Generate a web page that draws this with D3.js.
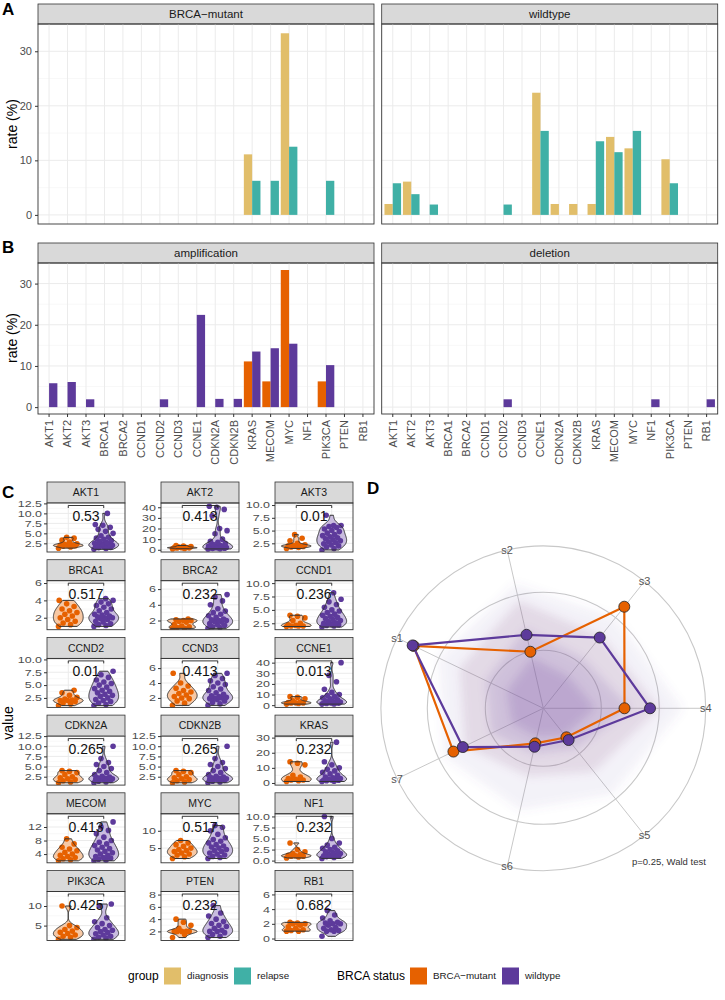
<!DOCTYPE html>
<html>
<head>
<meta charset="utf-8">
<script src="https://cdn.jsdelivr.net/npm/d3@7"></script>
<style>
body { margin: 0; background: #fff; }
svg { font-family: "Liberation Sans", Arial, sans-serif; }
</style>
</head>
<body>
<div id="fig"></div>
<script>
// ---- data ----
var genes = ['AKT1','AKT2','AKT3','BRCA1','BRCA2','CCND1','CCND2','CCND3','CCNE1','CDKN2A','CDKN2B','KRAS','MECOM','MYC','NF1','PIK3CA','PTEN','RB1'];

// panel A: alteration rate (%) by group, per BRCA status
var diagMutant    = [0,0,0,0,0,0,0,0,0,0,0,11.1,0,33.3,0,0,0,0];
var relapseMutant = [0,0,0,0,0,0,0,0,0,0,0,6.25,6.25,12.5,0,6.25,0,0];
var diagWild      = [2.0,6.1,0,0,0,0,0,0,22.4,2.0,2.0,2.0,14.3,12.2,0,10.2,0,0];
var relapseWild   = [5.8,3.8,1.9,0,0,0,1.9,0,15.4,0,0,13.5,11.5,15.4,0,5.8,0,0];

// panel B: amplification / deletion rate (%)
var ampMutant = [0,0,0,0,0,0,0,0,0,0,0,11.1,6.25,33.3,0,6.25,0,0];
var ampWild   = [5.8,6.1,1.9,0,0,0,1.9,0,22.4,2.0,2.0,13.5,14.3,15.4,0,10.2,0,0];
var delMutant = [0,0,0,0,0,0,0,0,0,0,0,0,0,0,0,0,0,0];
var delWild   = [0,0,0,0,0,0,1.9,0,0,0,0,0,0,0,1.9,0,0,1.9];
var rateTicks = [0,10,20,30];

// panel C: copy number values per gene
var cnMutant = [
  [1.3,1.6,1.8,1.9,2.0,2.0,2.1,2.2,2.4,2.8,3.3,3.8,4.0],
  [1.0,1.3,1.6,1.8,2.0,2.0,2.2,2.5,3.0,3.5,4.0],
  [1.5,1.7,1.8,1.9,2.0,2.0,2.0,2.1,2.2,2.5,3.0,3.5,4.2],
  [1.0,1.2,1.4,1.6,1.8,2.0,2.2,2.4,2.6,2.8,3.0,3.3,3.6,4.0],
  [1.0,1.0,1.1,1.2,1.3,1.5,1.8,1.9,2.0,2.0,2.1,2.2],
  [1.9,2.0,2.0,2.0,2.1,2.2,2.5,3.0,3.5,3.8,4.0],
  [1.0,1.3,1.5,1.8,2.0,2.0,2.1,2.3,2.6,3.0,3.5,4.0],
  [1.0,1.3,1.6,1.9,2.0,2.2,2.4,2.6,2.8,3.0,3.3,3.6,4.0,5.3],
  [1.0,1.5,2.0,2.0,2.2,2.5,3.0,4.0,6.0,7.5,8.0],
  [1.0,1.2,1.5,1.8,2.0,2.2,2.5,3.0,3.5,3.8,4.0],
  [1.0,1.2,1.5,1.8,2.0,2.2,2.5,3.0,3.5,3.8,4.0],
  [1.0,1.5,2.0,2.0,2.5,3.0,4.0,5.0,12.0,13.0,14.0],
  [2.0,2.3,2.6,3.0,3.3,3.6,4.0,4.5,5.0,5.5,6.0,7.0,8.5],
  [2.0,2.5,3.0,3.3,3.6,4.0,4.3,4.6,5.0,5.5,6.0,6.5,7.2],
  [0.6,0.8,1.0,1.0,1.1,1.2,1.4,1.6,2.0,2.5,4.0],
  [1.5,2.0,2.3,2.6,3.0,3.3,3.6,4.0,4.5,5.0,10.0],
  [1.0,1.5,2.0,2.0,2.0,2.0,2.0,2.5,3.0,3.5,4.0],
  [1.0,1.0,1.1,1.2,1.4,1.6,1.8,2.0,2.0,2.1,2.2]
];
var cnWild = [
  [1.0,1.2,1.4,1.5,1.7,1.8,1.9,2.0,2.0,2.0,2.1,2.2,2.3,2.5,2.7,3.0,3.2,3.5,3.8,4.0,4.4,5.0,5.5,6.0,6.5,7.0,7.2,10.0],
  [0.8,1.0,1.2,1.5,1.7,1.8,2.0,2.0,2.1,2.3,2.5,2.8,3.0,3.5,4.0,5.0,6.0,7.0,8.0,10.0,15.0,18.0,20.0,32.0,38.0,40.0,41.0],
  [1.2,1.5,1.8,2.0,2.2,2.4,2.6,2.8,3.0,3.2,3.4,3.6,3.8,4.0,4.2,4.5,4.8,5.0,5.3,5.6,5.8,6.0,6.0,8.0],
  [1.0,1.1,1.2,1.3,1.5,1.6,1.8,1.9,2.0,2.0,2.1,2.2,2.3,2.4,2.6,2.8,3.0,3.2,3.4,3.6,3.8,4.0,4.2],
  [1.0,1.1,1.2,1.4,1.5,1.6,1.8,1.9,2.0,2.0,2.1,2.2,2.4,2.6,2.8,3.0,3.2,3.5,4.0,4.5,5.0,5.3],
  [1.8,2.0,2.1,2.2,2.3,2.5,2.6,2.8,3.0,3.2,3.4,3.6,3.8,4.0,4.2,4.5,4.8,5.0,5.5,6.0,6.5,7.0,8.2],
  [1.0,1.2,1.5,1.8,2.0,2.2,2.5,2.8,3.0,3.2,3.5,3.8,4.0,4.3,4.6,5.0,5.3,5.6,6.0,6.5,7.0,7.7],
  [1.0,1.2,1.4,1.6,1.8,1.9,2.0,2.0,2.1,2.2,2.3,2.5,2.7,3.0,3.2,3.5,3.8,4.0,4.3,4.6,5.0,5.3],
  [1.0,1.2,1.5,1.8,2.0,2.0,2.2,2.5,3.0,3.5,4.0,5.0,6.0,7.0,8.0,9.0,10.0,12.0,15.0,22.0,28.0,40.0],
  [1.0,1.2,1.4,1.6,1.8,1.9,2.0,2.0,2.0,2.1,2.2,2.4,2.6,3.0,3.5,4.0,4.5,5.0,5.5,6.0,7.0,10.0],
  [1.0,1.2,1.4,1.6,1.8,1.9,2.0,2.0,2.0,2.1,2.2,2.4,2.6,3.0,3.5,4.0,4.5,5.0,5.5,6.0,7.0,10.0],
  [1.0,1.2,1.5,1.8,2.0,2.0,2.2,2.5,3.0,3.5,4.0,5.0,6.0,7.0,8.0,9.0,10.0,12.0,14.0,27.0],
  [2.0,2.2,2.5,2.8,3.0,3.3,3.6,4.0,4.4,4.8,5.2,5.6,6.0,6.5,7.0,7.5,8.0,9.0,10.0,11.0,12.0,13.5],
  [2.0,2.3,2.6,3.0,3.3,3.6,4.0,4.3,4.6,5.0,5.3,5.6,6.0,6.5,7.0,7.5,8.0,9.0,10.0,11.0,11.5],
  [0.5,0.7,0.9,1.0,1.0,1.1,1.2,1.4,1.6,1.8,2.0,2.2,2.5,2.8,3.0,3.5,4.0,5.0,10.0],
  [1.5,1.8,2.0,2.3,2.6,2.9,3.2,3.5,3.8,4.0,4.5,5.0,5.5,6.0,7.0,10.0,10.5],
  [1.0,1.2,1.5,1.8,2.0,2.0,2.2,2.5,2.8,3.0,3.3,3.6,4.0,4.5,5.0,6.2],
  [0.3,1.0,1.0,1.1,1.2,1.4,1.5,1.8,2.0,2.0,2.1,2.2,2.4,2.8,3.2,3.8]
];
var cnPvalues = ['0.53','0.413','0.01','0.517','0.232','0.236','0.01','0.413','0.013','0.265','0.265','0.232','0.413','0.517','0.232','0.425','0.232','0.682'];
var cnTicks = [
  [2.5,5,7.5,10,12.5],[0,10,20,30,40],[2.5,5,7.5,10],
  [2,4,6],[2,4,6],[2.5,5,7.5,10],
  [2.5,5,7.5,10],[2,4,6],[0,10,20,30,40],
  [2.5,5,7.5,10,12.5],[2.5,5,7.5,10,12.5],[0,10,20,30],
  [4,8,12],[5,10],[0,2.5,5,7.5,10],
  [5,10],[2,4,6,8],[0,2,4,6]
];
var cnDomain = [
  [0.33,12.6],[-2.1,44],[0.8,10.4],
  [0.62,6.27],[0.83,7.07],[1.3,10.45],
  [0.65,10.2],[0.73,7.3],[-2.1,44],
  [0.43,12.5],[0.43,12.5],[-1.4,31],
  [1.42,15.9],[0.76,14.9],[-0.5,10.6],
  [1.2,13.7],[0.52,8.5],[-0.27,6.4]
];

// panel D: radar
var radarAxes = ['s1','s2','s3','s4','s5','s6','s7'];
var radarMutant = [1.24,0.50,1.12,0.70,0.32,0.31,0.86];
var radarWild   = [1.25,0.65,0.78,0.92,0.35,0.34,0.77];
var radarRings  = [0.5,1.0];
var hazeOuter = [1.00,1.10,1.00,1.20,0.95,0.90,0.95];
var hazeMid   = [0.80,0.95,0.80,1.00,0.70,0.60,0.75];
var hazeInner = [0.55,0.70,0.55,0.75,0.45,0.40,0.50];
var hazeCore  = [0.35,0.45,0.35,0.45,0.30,0.25,0.30];

var statusLevels = ['BRCA-mutant','wildtype'];
var colDiag = '#E1BE6A', colRelapse = '#40B0A6';
var colMut = '#E66100', colWild = '#5D3A9B';

// ---- setup ----
var svg = d3.select('#fig').append('svg')
    .attr('width', 725)
    .attr('height', 1000);

var gridMajor = '#EBEBEB', gridMinor = '#F4F4F4', frame = '#333333';

function tag(txt, x, y) {
    svg.append('text').attr('x', x).attr('y', y)
        .attr('font-size', 17).attr('font-weight', 'bold').text(txt);
}

function strip(x0, x1, y0, y1, label, fs) {
    svg.append('rect').attr('x', x0).attr('y', y0)
        .attr('width', x1 - x0).attr('height', y1 - y0)
        .attr('fill', '#D9D9D9').attr('stroke', frame).attr('stroke-width', 0.8);
    svg.append('text').attr('x', (x0 + x1) / 2).attr('y', (y0 + y1) / 2)
        .attr('dy', '0.35em').attr('text-anchor', 'middle')
        .attr('font-size', fs).attr('fill', '#1A1A1A').text(label);
}

// bar facet (panels A and B)
function barFacet(x0, x1, sTop, pTop, pBot, title, left, right, colL, colR, yAxis, xLabels) {
    strip(x0, x1, sTop, pTop, title, 11.5);
    var x = d3.scalePoint().domain(genes).range([x0, x1]).padding(0.6);
    var y = d3.scaleLinear().domain([-1.67, 35]).range([pBot, pTop]);
    var step = x.step();
    var g = svg.append('g');

    // minor grid
    [5, 15, 25].forEach(function(v) {
        g.append('line').attr('x1', x0).attr('x2', x1).attr('y1', y(v)).attr('y2', y(v))
            .attr('stroke', gridMinor).attr('stroke-width', 0.6);
    });
    rateTicks.forEach(function(v) {
        g.append('line').attr('x1', x0).attr('x2', x1).attr('y1', y(v)).attr('y2', y(v))
            .attr('stroke', gridMajor).attr('stroke-width', 1);
    });
    genes.forEach(function(gn) {
        g.append('line').attr('x1', x(gn)).attr('x2', x(gn)).attr('y1', pTop).attr('y2', pBot)
            .attr('stroke', gridMajor).attr('stroke-width', 1);
    });

    var w = step * 0.45;
    g.selectAll('rect.l').data(genes).enter().filter(function(d, i) { return left[i] > 0; })
        .append('rect')
        .attr('x', function(d) { return x(d) - w; })
        .attr('width', w)
        .attr('y', function(d) { return y(left[genes.indexOf(d)]); })
        .attr('height', function(d) { return y(0) - y(left[genes.indexOf(d)]); })
        .attr('fill', colL);
    g.selectAll('rect.r').data(genes).enter().filter(function(d, i) { return right[i] > 0; })
        .append('rect')
        .attr('x', function(d) { return x(d); })
        .attr('width', w)
        .attr('y', function(d) { return y(right[genes.indexOf(d)]); })
        .attr('height', function(d) { return y(0) - y(right[genes.indexOf(d)]); })
        .attr('fill', colR);

    g.append('rect').attr('x', x0).attr('y', pTop).attr('width', x1 - x0).attr('height', pBot - pTop)
        .attr('fill', 'none').attr('stroke', frame).attr('stroke-width', 0.9);

    if (yAxis) {
        var ax = svg.append('g').attr('transform', 'translate(' + x0 + ',0)')
            .call(d3.axisLeft(y).tickValues(rateTicks).tickSize(3).tickPadding(3));
        ax.select('.domain').remove();
        ax.selectAll('line').attr('stroke', frame);
        ax.selectAll('text').attr('font-size', 11).attr('fill', '#4D4D4D')
            .attr('font-family', '"Liberation Sans", Arial, sans-serif');
    }
    if (xLabels) {
        var bx = svg.append('g').attr('transform', 'translate(0,' + pBot + ')');
        genes.forEach(function(gn) {
            bx.append('line').attr('x1', x(gn)).attr('x2', x(gn)).attr('y1', 0).attr('y2', 3)
                .attr('stroke', frame);
            bx.append('text')
                .attr('transform', 'translate(' + x(gn) + ',6) rotate(-90)')
                .attr('dy', '0.35em').attr('text-anchor', 'end')
                .attr('font-size', 11).attr('fill', '#4D4D4D').text(gn);
        });
    }
}

var facetL = [38, 374], facetR = [381.7, 717.7];

tag('A', 2, 15);
barFacet(facetL[0], facetL[1], 4, 24, 224, 'BRCA\u2212mutant', diagMutant, relapseMutant, colDiag, colRelapse, true, false);
barFacet(facetR[0], facetR[1], 4, 24, 224, 'wildtype', diagWild, relapseWild, colDiag, colRelapse, false, false);
svg.append('text').attr('transform', 'translate(17,124) rotate(-90)')
    .attr('text-anchor', 'middle').attr('font-size', 14).text('rate (%)');

tag('B', 2, 253);
barFacet(facetL[0], facetL[1], 243, 263, 414, 'amplification', ampMutant, ampWild, colMut, colWild, true, true);
barFacet(facetR[0], facetR[1], 243, 263, 414, 'deletion', delMutant, delWild, colMut, colWild, false, true);
svg.append('text').attr('transform', 'translate(17,338) rotate(-90)')
    .attr('text-anchor', 'middle').attr('font-size', 14).text('rate (%)');

// ---- panel C: violins ----
tag('C', 2, 498);

function kde(values, lo, hi, nPts) {
    var s = values.slice().sort(d3.ascending);
    var sd = d3.deviation(s);
    var iqr = d3.quantile(s, 0.75) - d3.quantile(s, 0.25);
    var m = Math.min(sd, iqr / 1.34);
    if (!(m > 0)) m = sd || 1;
    var bw = 0.9 * m * Math.pow(s.length, -0.2);
    var out = [];
    for (var i = 0; i < nPts; i++) {
        var v = lo + (hi - lo) * i / (nPts - 1);
        var d = d3.sum(s, function(t) { var z = (v - t) / bw; return Math.exp(-0.5 * z * z); });
        out.push({ v: v, d: d / (s.length * bw * Math.sqrt(2 * Math.PI)) });
    }
    return out;
}

var cCols = [47, 161, 275], cW = 78;
var cRows = [482, 559.7, 637.4, 715.1, 792.8, 870.5];
var stripH = 21, panelH = 49;

genes.forEach(function(gn, gi) {
    var x0 = cCols[gi % 3], x1 = x0 + cW;
    var sTop = cRows[Math.floor(gi / 3)], pTop = sTop + stripH, pBot = pTop + panelH;
    strip(x0, x1, sTop, pTop, gn, 10.5);

    var x = d3.scalePoint().domain(statusLevels).range([x0, x1]).padding(0.6);
    var y = d3.scaleLinear().domain(cnDomain[gi]).range([pBot, pTop]);
    var ticks = cnTicks[gi];
    var g = svg.append('g');

    // grid
    var tstep = ticks[1] - ticks[0];
    var minors = [ticks[0] - tstep / 2].concat(ticks.map(function(t) { return t + tstep / 2; }));
    minors.forEach(function(v) {
        if (y(v) > pTop && y(v) < pBot)
            g.append('line').attr('x1', x0).attr('x2', x1).attr('y1', y(v)).attr('y2', y(v))
                .attr('stroke', gridMinor).attr('stroke-width', 0.6);
    });
    ticks.forEach(function(v) {
        g.append('line').attr('x1', x0).attr('x2', x1).attr('y1', y(v)).attr('y2', y(v))
            .attr('stroke', gridMajor).attr('stroke-width', 1);
    });
    statusLevels.forEach(function(s) {
        g.append('line').attr('x1', x(s)).attr('x2', x(s)).attr('y1', pTop).attr('y2', pBot)
            .attr('stroke', gridMajor).attr('stroke-width', 1);
    });

    var sets = [cnMutant[gi], cnWild[gi]];
    var cols = [colMut, colWild];
    var fills = ['#F7C8A4', '#C9BCDF'];
    var dens = sets.map(function(vals) {
        return kde(vals, d3.min(vals), d3.max(vals), 80);
    });
    var halfW = x.step() * 0.42;

    var clipId = 'clipC' + gi;
    svg.append('clipPath').attr('id', clipId).append('rect')
        .attr('x', x0).attr('y', pTop).attr('width', cW).attr('height', panelH);
    var pg = g.append('g').attr('clip-path', 'url(#' + clipId + ')');

    var areas = dens.map(function(ds, k) {
        var cx = x(statusLevels[k]);
        var maxD = d3.max(ds, function(p) { return p.d; });
        return d3.area()
            .y(function(p) { return y(p.v); })
            .x0(function(p) { return cx - p.d / maxD * halfW; })
            .x1(function(p) { return cx + p.d / maxD * halfW; })(ds);
    });
    areas.forEach(function(a, k) {
        pg.append('path').attr('d', a).attr('fill', fills[k]);
    });
    sets.forEach(function(vals, k) {
        var cx = x(statusLevels[k]);
        pg.selectAll(null).data(vals).enter().append('circle')
            .attr('cx', function(d, i) { return cx + ((i * 0.618034) % 1 - 0.5) * x.step() * 0.55; })
            .attr('cy', function(d) { return y(d); })
            .attr('r', 2.8)
            .attr('fill', cols[k]);
    });
    areas.forEach(function(a) {
        pg.append('path').attr('d', a).attr('fill', 'none')
            .attr('stroke', '#333').attr('stroke-width', 1);
    });

    // comparison bracket and p-value
    var bx0 = x(statusLevels[0]), bx1 = x(statusLevels[1]), by = pTop + 2.5;
    g.append('path')
        .attr('d', 'M' + bx0 + ',' + (by + 2.5) + 'V' + by + 'H' + bx1 + 'V' + (by + 2.5))
        .attr('fill', 'none').attr('stroke', '#222').attr('stroke-width', 0.9);
    g.append('text').attr('x', (bx0 + bx1) / 2).attr('y', pTop + 18)
        .attr('text-anchor', 'middle').attr('font-size', 14).attr('fill', '#111')
        .text(cnPvalues[gi]);

    g.append('rect').attr('x', x0).attr('y', pTop).attr('width', cW).attr('height', panelH)
        .attr('fill', 'none').attr('stroke', frame).attr('stroke-width', 0.9);

    var frac = ticks.some(function(t) { return t % 1 !== 0; });
    var ax = svg.append('g').attr('transform', 'translate(' + x0 + ',0)')
        .call(d3.axisLeft(y).tickValues(ticks).tickSize(3).tickPadding(2)
            .tickFormat(function(t) { return frac ? t.toFixed(1) : String(t); }));
    ax.select('.domain').remove();
    ax.selectAll('line').attr('stroke', frame);
    ax.selectAll('text').attr('font-size', 12.5).attr('fill', '#4D4D4D')
        .attr('transform', 'scale(1,0.72)')
        .attr('font-family', '"Liberation Sans", Arial, sans-serif');
});

svg.append('text').attr('transform', 'translate(13,723) rotate(-90)')
    .attr('text-anchor', 'middle').attr('font-size', 14).text('value');

// ---- panel D: radar ----
tag('D', 367, 494);
var cx = 543.3, cy = 708.3;
var r = d3.scaleLinear().domain([0, 1.4]).range([0, 162.4]);
var ang = d3.scaleLinear().domain([0, radarAxes.length]).range([-64.29 * Math.PI / 180, (360 - 64.29) * Math.PI / 180]);
var radar = svg.append('g').attr('transform', 'translate(' + cx + ',' + cy + ')');

var defs = svg.append('defs');
defs.append('filter').attr('id', 'haze').attr('x', '-50%').attr('y', '-50%').attr('width', '200%').attr('height', '200%')
    .append('feGaussianBlur').attr('stdDeviation', 5);

radarRings.concat([1.4]).forEach(function(v) {
    radar.append('circle').attr('r', r(v)).attr('fill', 'none')
        .attr('stroke', '#C8C8C8').attr('stroke-width', 1.1);
});
radarAxes.forEach(function(a, i) {
    var t = ang(i);
    radar.append('line').attr('x1', 0).attr('y1', 0)
        .attr('x2', r(1.4) * Math.sin(t)).attr('y2', -r(1.4) * Math.cos(t))
        .attr('stroke', '#C8C8C8').attr('stroke-width', 1);
});

var radial = d3.lineRadial()
    .angle(function(d, i) { return ang(i); })
    .radius(function(d) { return r(d); })
    .curve(d3.curveLinearClosed);

var haze = radar.append('g').attr('filter', 'url(#haze)');
[[hazeOuter, 0.08], [hazeMid, 0.13], [hazeInner, 0.18], [hazeCore, 0.22]].forEach(function(h) {
    haze.append('path').attr('d', radial(h[0])).attr('fill', '#7453AA').attr('opacity', h[1]);
});
haze.append('path').attr('d', radial(hazeMid)).attr('fill', colMut).attr('opacity', 0.03);

radarAxes.forEach(function(a, i) {
    var t = ang(i);
    radar.append('text').attr('x', r(1.4) * Math.sin(t)).attr('y', -r(1.4) * Math.cos(t))
        .attr('dy', '0.35em').attr('text-anchor', 'middle')
        .attr('font-size', 11).attr('fill', '#555').text(a);
});

[[radarMutant, colMut], [radarWild, colWild]].forEach(function(s) {
    radar.append('path').attr('d', radial(s[0])).attr('fill', 'none')
        .attr('stroke', s[1]).attr('stroke-width', 2.2);
    radar.selectAll(null).data(s[0]).enter().append('circle')
        .attr('cx', function(d, i) { return r(d) * Math.sin(ang(i)); })
        .attr('cy', function(d, i) { return -r(d) * Math.cos(ang(i)); })
        .attr('r', 5.5)
        .attr('fill', s[1]).attr('stroke', '#222').attr('stroke-width', 0.8);
});

svg.append('text').attr('x', 632).attr('y', 865).attr('font-size', 9.5).attr('fill', '#333')
    .text('p=0.25, Wald test');

// ---- legend ----
var lg = svg.append('g');
var legendY = 976;
function legendTitle(txt, x) {
    lg.append('text').attr('x', x).attr('y', legendY).attr('dy', '0.35em')
        .attr('font-size', 12).text(txt);
}
function legendKey(col, label, x) {
    lg.append('rect').attr('x', x).attr('y', legendY - 8.5).attr('width', 17).attr('height', 17).attr('fill', col);
    lg.append('text').attr('x', x + 23).attr('y', legendY).attr('dy', '0.35em')
        .attr('font-size', 9.8).attr('fill', '#1A1A1A').text(label);
}
legendTitle('group', 128);
legendKey(colDiag, 'diagnosis', 164);
legendKey(colRelapse, 'relapse', 234);
legendTitle('BRCA status', 337);
legendKey(colMut, 'BRCA\u2212mutant', 410);
legendKey(colWild, 'wildtype', 502);
</script>
</body>
</html>
